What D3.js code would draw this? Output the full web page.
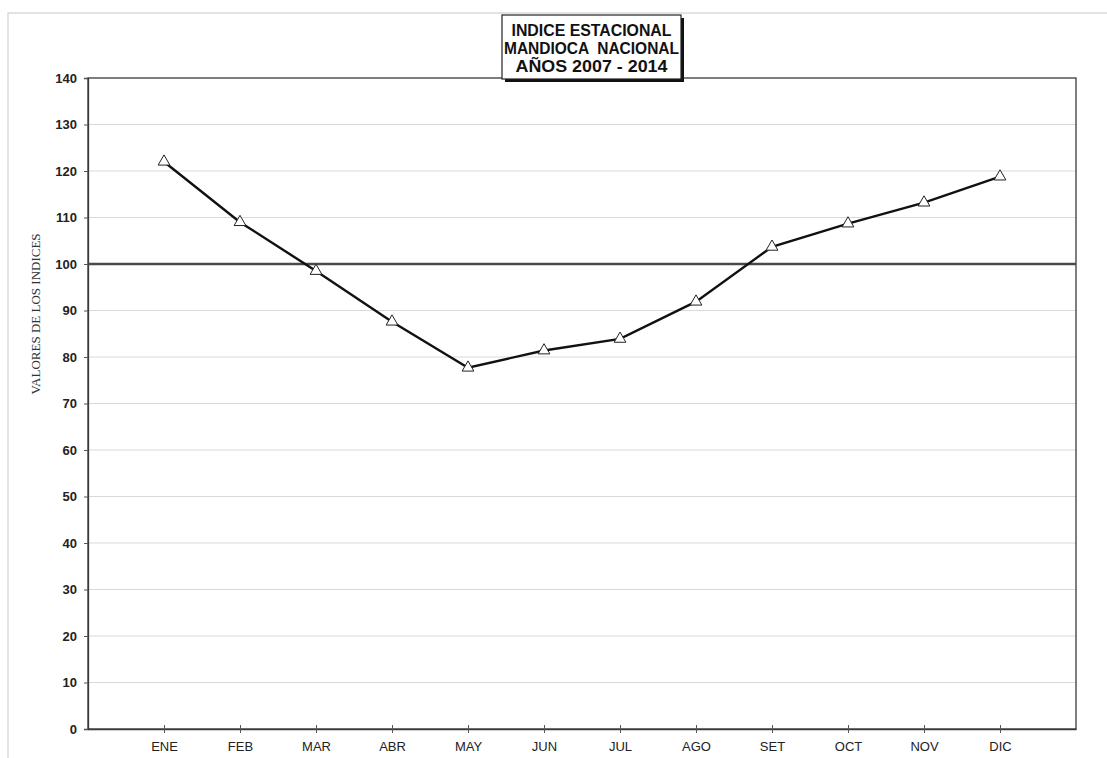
<!DOCTYPE html>
<html>
<head>
<meta charset="utf-8">
<script src="https://cdn.jsdelivr.net/npm/d3@7"></script>
<style>
  body { margin: 0; background: #fff; }
  svg { display: block; }
</style>
</head>
<body>
<div id="chart"></div>
<script>
// months and seasonal index values
const months = ["ENE", "FEB", "MAR", "ABR", "MAY", "JUN", "JUL", "AGO", "SET", "OCT", "NOV", "DIC"];
const indexValues = [122.0, 109.0, 98.5, 87.6, 77.7, 81.4, 83.9, 91.9, 103.7, 108.7, 113.2, 118.8];
const yTicks = [0, 10, 20, 30, 40, 50, 60, 70, 80, 90, 100, 110, 120, 130, 140];
const refValue = 100;
const titleLines = ["INDICE ESTACIONAL", "MANDIOCA  NACIONAL", "AÑOS 2007 - 2014"];
const titleWidths = [160, 175, 152];

const width = 1107, height = 758;
const margin = {top: 78, right: 31, bottom: 29, left: 88};

const svg = d3.select("#chart").append("svg")
    .attr("width", width)
    .attr("height", height);

// outer chart area border (runs off the page on right / bottom)
svg.append("rect")
    .attr("x", 8).attr("y", 13)
    .attr("width", width + 20).attr("height", height + 20)
    .attr("fill", "none")
    .attr("stroke", "#c8c8c8")
    .attr("stroke-width", 1);

let x = d3.scalePoint()
    .domain(months)
    .range([margin.left, width - margin.right])
    .padding(1);

let y = d3.scaleLinear()
    .domain([0, 140])
    .range([height - margin.bottom, margin.top]);

// gridlines
svg.append("g")
    .selectAll("line")
    .data(yTicks.filter(d => d > 0 && d < 140 && d != refValue))
    .join("line")
    .attr("x1", margin.left).attr("x2", width - margin.right)
    .attr("y1", d => y(d)).attr("y2", d => y(d))
    .attr("stroke", "#d9d9d9")
    .attr("stroke-width", 1);

// plot border
svg.append("rect")
    .attr("x", margin.left).attr("y", margin.top)
    .attr("width", width - margin.right - margin.left)
    .attr("height", height - margin.bottom - margin.top)
    .attr("fill", "none")
    .attr("stroke", "#3a3a3a")
    .attr("stroke-width", 1.3);

// y axis
let yAxis = svg.append("g")
    .attr("transform", `translate(${margin.left},0)`)
    .call(d3.axisLeft(y).tickValues(yTicks).tickSize(4).tickPadding(7));
yAxis.select(".domain").attr("stroke", "#3a3a3a").attr("stroke-width", 1.3);
yAxis.selectAll(".tick line").attr("stroke", "#555");
yAxis.selectAll("text")
    .attr("font-family", "'Liberation Sans', Arial, sans-serif")
    .attr("font-size", 13)
    .attr("font-weight", "bold")
    .attr("fill", "#222");

// x axis
let xAxis = svg.append("g")
    .attr("transform", `translate(0,${height - margin.bottom})`)
    .call(d3.axisBottom(x).tickSizeInner(4).tickSizeOuter(0).tickPadding(9));
xAxis.select(".domain").attr("stroke", "#3a3a3a").attr("stroke-width", 1.3);
xAxis.selectAll(".tick line").attr("stroke", "#555").attr("transform", "translate(0,-4)").attr("y2", 8);
xAxis.selectAll("text")
    .attr("font-family", "'Liberation Sans', Arial, sans-serif")
    .attr("font-size", 13)
    .attr("fill", "#222");

// y axis title
svg.append("text")
    .attr("transform", `translate(40,314) rotate(-90)`)
    .attr("text-anchor", "middle")
    .attr("font-family", "'Liberation Serif', 'Times New Roman', serif")
    .attr("font-size", 13)
    .attr("fill", "#333")
    .text("VALORES DE LOS INDICES");

// reference line at 100
svg.append("line")
    .attr("x1", margin.left).attr("x2", width - margin.right)
    .attr("y1", y(refValue)).attr("y2", y(refValue))
    .attr("stroke", "#4a4a4a")
    .attr("stroke-width", 2.5);

// series line
let line = d3.line()
    .x((d, i) => x(months[i]))
    .y(d => y(d));

svg.append("path")
    .datum(indexValues)
    .attr("d", line)
    .attr("fill", "none")
    .attr("stroke", "#111")
    .attr("stroke-width", 2.4);

// triangle markers
let tri = d3.symbol().type(d3.symbolTriangle).size(60);
svg.append("g")
    .selectAll("path")
    .data(indexValues)
    .join("path")
    .attr("d", tri)
    .attr("transform", (d, i) => `translate(${x(months[i])},${y(d)})`)
    .attr("fill", "#fff")
    .attr("stroke", "#222")
    .attr("stroke-width", 1);

// title box with shadow
let box = {x: 502, y: 15, w: 179, h: 64};
svg.append("rect")
    .attr("x", box.x + 3).attr("y", box.y + 3)
    .attr("width", box.w).attr("height", box.h)
    .attr("fill", "#111");
svg.append("rect")
    .attr("x", box.x).attr("y", box.y)
    .attr("width", box.w).attr("height", box.h)
    .attr("fill", "#fff")
    .attr("stroke", "#222")
    .attr("stroke-width", 1.2);
svg.append("g")
    .selectAll("text")
    .data(titleLines)
    .join("text")
    .attr("x", box.x + box.w / 2)
    .attr("y", (d, i) => box.y + 21 + i * 18)
    .attr("text-anchor", "middle")
    .attr("font-family", "'Liberation Sans', Arial, sans-serif")
    .attr("font-size", 16)
    .attr("font-weight", "bold")
    .attr("fill", "#111")
    .attr("textLength", (d, i) => titleWidths[i])
    .attr("lengthAdjust", "spacingAndGlyphs")
    .style("white-space", "pre")
    .text(d => d);
</script>
</body>
</html>
